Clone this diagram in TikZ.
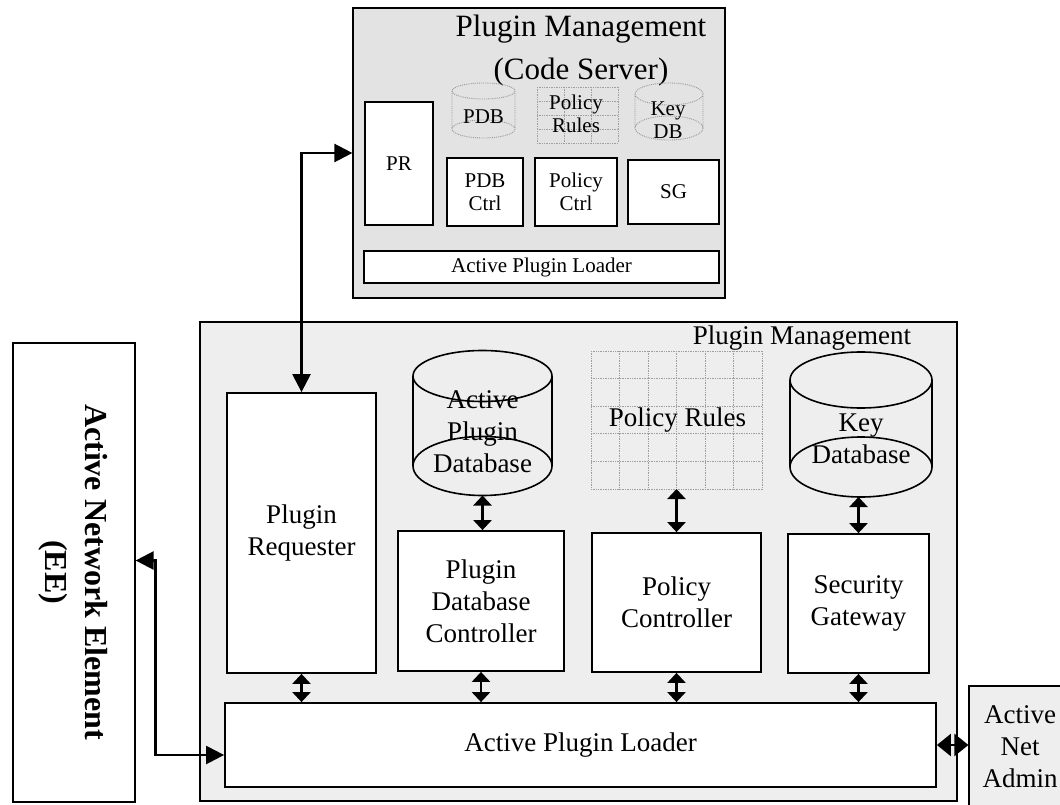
\documentclass[tikz,border=0pt]{standalone}
\usepackage{fontspec}
\setmainfont{Liberation Serif}
\usetikzlibrary{arrows.meta,calc}

\newcommand\fsMain{\fontsize{27}{32}\selectfont}
\newcommand\fsSmall{\fontsize{21}{23.5}\selectfont}
\newcommand\fsTitle{\fontsize{31}{43}\selectfont}
\newcommand\fsLabel{\fontsize{27}{32}\selectfont}
\newcommand\fsElem{\fontsize{32}{40}\selectfont\bfseries}

% database drum: node name, x radius, top y radius, bottom y radius, style
\newcommand\dbdrum[5]{%
  \draw[#5] ($(#1.north)+(0,#3)$) ellipse [x radius=#2, y radius=#3]
            ($(#1.south)+(0,-#4)$) ellipse [x radius=#2, y radius=#4]
            ($(#1.north west)+(0,#3)$) -- ($(#1.south west)+(0,-#4)$)
            ($(#1.north east)+(0,#3)$) -- ($(#1.south east)+(0,-#4)$);}

\tikzset{
  panel/.style={draw, line width=1.2pt, inner sep=0pt},
  box/.style={draw, line width=1.8pt, fill=white, inner sep=0pt, align=center},
  txt/.style={inner sep=0pt, align=center},
  drum/.style={inner sep=0pt, outer sep=0pt},
  solidline/.style={line width=1.6pt},
  ghost/.style={draw=gray!80, densely dotted, line width=0.9pt},
  gridln/.style={draw=gray!75, densely dotted, line width=0.7pt},
  longlink/.style={line width=2.4pt,
    {Triangle[length=18pt,width=18pt]}-{Triangle[length=18pt,width=18pt]}},
  shortlink/.style={line width=2.4pt,
    {Triangle[length=10pt,width=18pt]}-{Triangle[length=10pt,width=18pt]}},
  sidelink/.style={line width=2.4pt,
    {Triangle[length=14pt,width=22pt]}-{Triangle[length=14pt,width=22pt]}},
}

\begin{document}
\begin{tikzpicture}[x=1pt,y=-1pt]
\useasboundingbox (0,0) rectangle (1060,805);

% ---------- Plugin Management (Code Server) ----------
\node[panel, fill=gray!22, minimum width=372pt, minimum height=290pt] (cs) at (539,153) {};
\node[txt, font=\fsTitle] (cstitle) at (581,51) {Plugin Management\\(Code Server)};
\node[box, font=\fsSmall, minimum width=68pt, minimum height=123pt] (cspr) at (399,163.5) {PR};
\node[box, font=\fsSmall, minimum width=76pt, minimum height=68pt] (cspdbc) at (485,192) {PDB\\Ctrl};
\node[box, font=\fsSmall, minimum width=82pt, minimum height=68pt] (cspolc) at (576,192) {Policy\\Ctrl};
\node[box, font=\fsSmall, minimum width=91pt, minimum height=64pt] (cssg) at (673.5,192) {SG};
\node[box, font=\fsSmall, line width=1.5pt, minimum width=355pt, minimum height=32pt] (csapl) at (541.5,267) {Active Plugin Loader};

% faint stores of the code server
\node[drum, minimum width=63pt, minimum height=55pt] (cspdb) at (483.5,110.5) {};
\dbdrum{cspdb}{31.5}{8}{9}{ghost}
\node[txt, font=\fsSmall] (cspdbtext) at (483.5,117) {PDB};

\node[drum, minimum width=81pt, minimum height=56pt] (csrules) at (577.5,115) {};
\foreach \i in {0,...,3} \draw[gridln] (537+27*\i,87) -- (537+27*\i,143);
\foreach \j in {0,...,4} \draw[gridln] (537,87+14*\j) -- (618,87+14*\j);
\node[txt, font=\fsSmall] (csrulestext) at (576,114) {Policy\\Rules};

\node[drum, minimum width=68pt, minimum height=57pt] (cskdb) at (669,111.5) {};
\dbdrum{cskdb}{34}{11}{12}{ghost}
\node[txt, font=\fsSmall] (cskdbtext) at (668,120) {Key\\DB};

% ---------- local Plugin Management ----------
\node[panel, fill=gray!13, minimum width=757pt, minimum height=479pt] (pm) at (578.5,561.5) {};
\node[txt, font=\fsLabel] (pmtitle) at (802,338) {Plugin Management};

\node[box, font=\fsMain, minimum width=149pt, minimum height=280pt] (preq) at (301.5,533) {Plugin\\Requester};
\node[box, font=\fsMain, minimum width=166pt, minimum height=140pt] (pdc) at (481,601) {Plugin\\Database\\Controller};
\node[box, font=\fsMain, minimum width=169pt, minimum height=139pt] (pc) at (676.5,602.5) {Policy\\Controller};
\node[box, font=\fsMain, minimum width=141pt, minimum height=139pt] (sg) at (858.5,603.5) {Security\\Gateway};
\node[box, font=\fsMain, minimum width=711pt, minimum height=84pt] (apl) at (580.5,745) {Active Plugin Loader};

% stores
\node[drum, minimum width=139pt, minimum height=145pt] (apd) at (482.5,423) {};
\node[txt, font=\fsMain] (apdtext) at (482.5,432) {Active\\Plugin\\Database};
\dbdrum{apd}{69.5}{25.5}{29.5}{solidline}

\node[drum, minimum width=171pt, minimum height=138pt] (prules) at (676.5,420) {};
\foreach \i in {0,...,6} \draw[gridln] (591+28.5*\i,351) -- (591+28.5*\i,489);
\foreach \j in {0,...,5} \draw[gridln] (591,351+27.6*\j) -- (762,351+27.6*\j);
\node[txt, font=\fsMain] (prulestext) at (677.5,420) {Policy Rules};

\node[drum, minimum width=142pt, minimum height=145pt] (kdb) at (861,424.5) {};
\node[txt, font=\fsMain] (kdbtext) at (861,439) {Key\\Database};
\dbdrum{kdb}{71}{28}{30}{solidline}

% ---------- outside elements ----------
\node[panel, fill=white, minimum width=122pt, minimum height=459pt] (ee) at (74,572.5) {};
\node[txt, font=\fsElem, rotate=-90] (eetext) at (73,572) {Active Network Element\\(EE)};

\node[panel, fill=gray!13, minimum width=102pt, minimum height=122pt] (ana) at (1020,747) {};
\node[txt, font=\fsMain] (anatext) at (1020,747) {Active\\Net\\Admin};

% ---------- links ----------
\draw[longlink] (preq.north) |- (cs.west);
\draw[longlink] ([yshift=12pt]ee.east) -- ++(20,0) |- ([yshift=-10pt]apl.west);
\draw[sidelink] (apl.east) -- (ana.west |- apl.east);

\draw[shortlink] (apd.south) -- (apd.south |- pdc.north);
\draw[shortlink] (pc.north |- prules.south) -- (pc.north);
\draw[shortlink] (sg.north |- kdb.south) -- (sg.north);

\draw[shortlink] (preq.south) -- (preq.south |- apl.north);
\draw[shortlink] (pdc.south) -- (pdc.south |- apl.north);
\draw[shortlink] (pc.south) -- (pc.south |- apl.north);
\draw[shortlink] (sg.south) -- (sg.south |- apl.north);
\end{tikzpicture}
\end{document}
